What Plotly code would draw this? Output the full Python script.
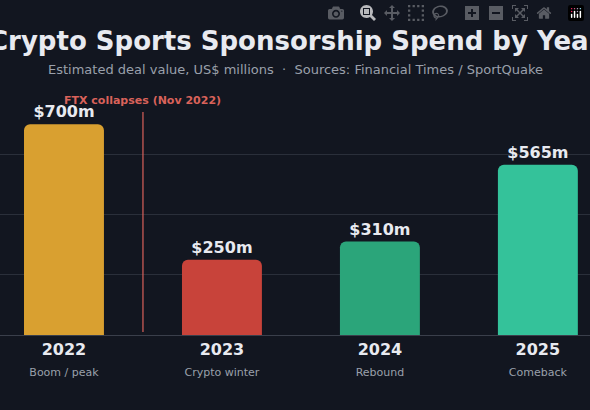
import plotly.graph_objects as go

years = ["2022", "2023", "2024", "2025"]
phases = ["Boom / peak", "Crypto winter", "Rebound", "Comeback"]
spend = [700, 250, 310, 565]
colors = ["#d9a030", "#c8433a", "#2ba57a", "#34c29a"]

ticktext = [f"<b>{y}</b><br><span style='font-size:11px;color:#9aa0ab'>{p}</span>" for y, p in zip(years, phases)]

fig = go.Figure(go.Bar(
    x=list(range(len(years))), y=spend, width=0.506,
    marker=dict(color=colors, cornerradius=6, line=dict(width=0)),
    text=[f"${v}m" for v in spend], textposition="outside", cliponaxis=False,
    textfont=dict(size=16, color="#e8eaf0", family="DejaVu Sans"),
    texttemplate="<b>%{text}</b>",
))
fig.add_shape(type="line", x0=0.5, x1=0.5, y0=10, y1=740, xref="x", yref="y",
              line=dict(color="#d9625a", width=1.2))
fig.add_annotation(x=0.5, y=780, xref="x", yref="y", text="<b>FTX collapses (Nov 2022)</b>",
                   showarrow=False, font=dict(size=11, color="#d9625a", family="DejaVu Sans"))
fig.add_annotation(x=0.5, y=1.29, xref="paper", yref="paper",
                   text="<b>Crypto Sports Sponsorship Spend by Year</b>", showarrow=False,
                   font=dict(size=26, color="#e8eaf0", family="DejaVu Sans"))
fig.add_annotation(x=0.5, y=1.14, xref="paper", yref="paper",
                   text="Estimated deal value, US$ millions  ·  Sources: Financial Times / SportQuake",
                   showarrow=False, font=dict(size=13, color="#9aa0ab", family="DejaVu Sans"))
fig.update_layout(
    width=590, height=410, margin=dict(l=0, r=0, t=94, b=75),
    paper_bgcolor="#121620", plot_bgcolor="#121620", showlegend=False,
    font=dict(family="DejaVu Sans", color="#e8eaf0"),
    xaxis=dict(range=[-0.405, 3.33], tickvals=list(range(4)), ticktext=ticktext,
               tickfont=dict(size=16, color="#e8eaf0"), showgrid=False, zeroline=False,
               showline=True, linecolor="#3a3f4b", ticks=""),
    yaxis=dict(range=[0, 800], tickvals=[200, 400, 600], showticklabels=False,
               gridcolor="#2a2f3a", zeroline=False),
)
fig.write_html("out.html", post_script="document.body.style.margin='0';document.body.style.background='#121620';")
